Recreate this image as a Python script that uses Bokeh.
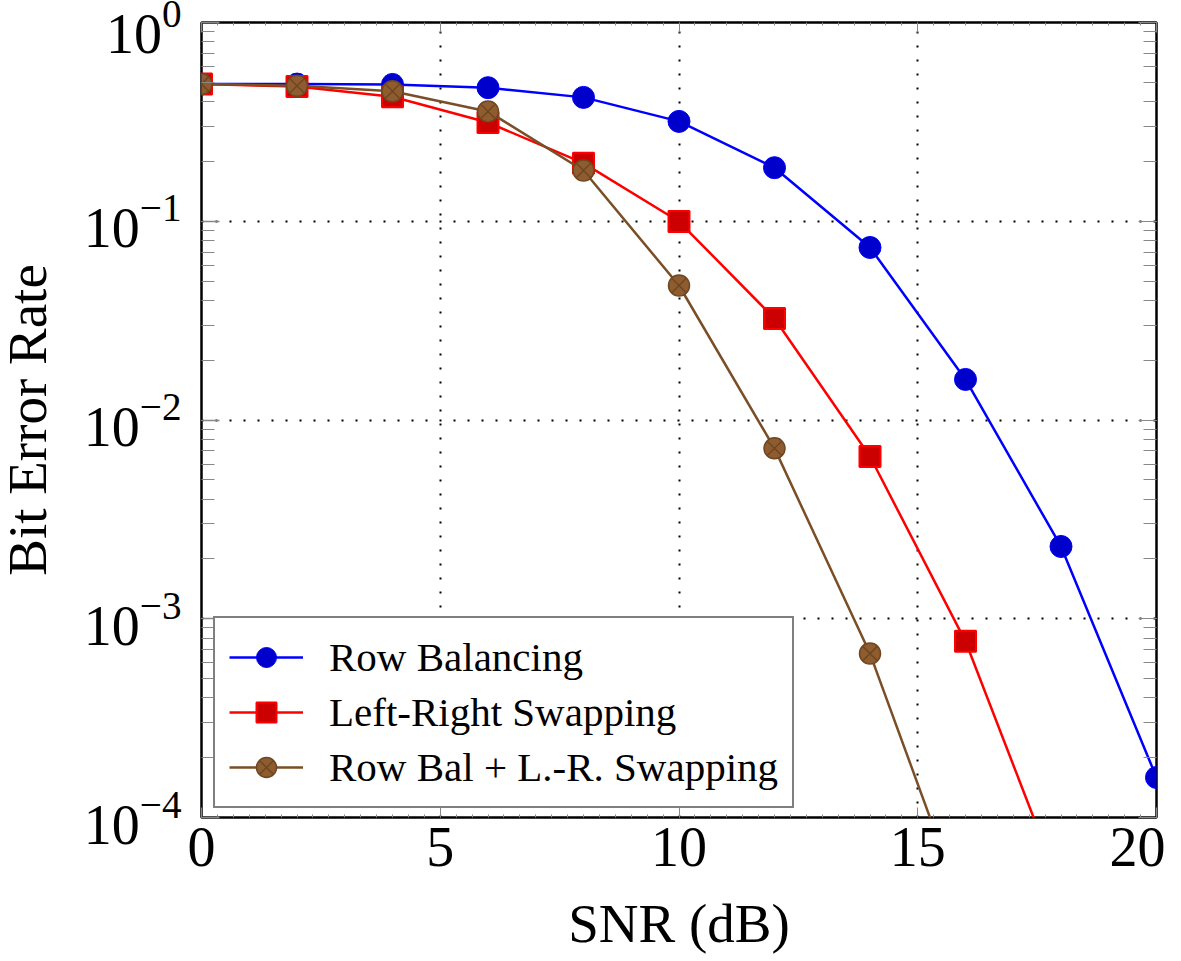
from bokeh.plotting import figure
from bokeh.models import (Range1d, LogAxis, LinearAxis, SingleIntervalTicker,
                          LogTicker, CustomJSTickFormatter)
from bokeh.embed import file_html
from bokeh.resources import INLINE

# ---- data ----
snr = [0, 2, 4, 6, 8, 10, 12, 14, 16, 18, 20]
ber_row_bal = [0.49, 0.49, 0.488, 0.47, 0.42, 0.318, 0.186, 0.0738, 0.016, 0.00231, 1.59e-4]
snr_lr = [0, 2, 4, 6, 8, 10, 12, 14, 16, 18]
ber_lr_swap = [0.49, 0.476, 0.423, 0.314, 0.196, 0.0997, 0.0324, 0.00655, 7.7e-4, 4.4e-5]
snr_both = [0, 2, 4, 6, 8, 10, 12, 14, 16]
ber_both = [0.49, 0.48, 0.451, 0.357, 0.18, 0.0475, 0.0072, 6.68e-4, 3.25e-5]

labels = ["Row Balancing", "Left-Right Swapping", "Row Bal + L.-R. Swapping"]
x_label = "SNR (dB)"
y_label = "Bit Error Rate"

FONT = "Liberation Serif"
SHIFT = 24

p = figure(width=1165 + SHIFT, height=961, x_range=Range1d(0, 20), y_range=Range1d(1e-4, 1),
           y_axis_type="log", output_backend="svg", toolbar_location=None,
           min_border_left=201 + SHIFT, min_border_right=9, min_border_top=22, min_border_bottom=144)
p.styles = {"margin-left": f"-{SHIFT}px"}

p.outline_line_color = "black"
p.outline_line_width = 2.5
p.background_fill_color = "white"

# grids
p.xgrid.ticker = SingleIntervalTicker(interval=5)
for g in (p.xgrid, p.ygrid):
    g.grid_line_color = "black"
    g.grid_line_width = 2
    g.grid_line_dash = "2 12"

xa = p.xaxis[0]
xa.ticker = SingleIntervalTicker(interval=5, num_minor_ticks=15)
ya = p.yaxis[0]
ya.ticker = LogTicker(num_minor_ticks=10)

for ax in (xa, ya):
    ax.axis_line_color = None
    ax.major_tick_line_color = "#888888"
    ax.minor_tick_line_color = "#888888"
    ax.major_tick_out = 0
    ax.minor_tick_out = 0
    ax.major_label_text_font = FONT
    ax.major_label_text_font_size = "56px"
    ax.major_label_text_color = "black"
    ax.axis_label_text_font = FONT
    ax.axis_label_text_font_size = "55px"
    ax.axis_label_text_font_style = "normal"
    ax.axis_label_text_color = "black"

xa.major_tick_in = 10
xa.minor_tick_in = 3
xa.major_label_standoff = 10
xa.axis_label = x_label
xa.axis_label_standoff = 24
ya.major_tick_in = 18
ya.minor_tick_in = 13
ya.major_tick_line_width = 1.5
ya.major_label_standoff = 20
ya.axis_label = y_label
ya.axis_label_standoff = 23

blank = CustomJSTickFormatter(code="return '';")
top = LinearAxis(ticker=SingleIntervalTicker(interval=5, num_minor_ticks=15), formatter=blank,
                 axis_line_color=None, major_tick_in=10, major_tick_out=0,
                 minor_tick_in=3, minor_tick_out=0, major_label_standoff=0,
                 major_tick_line_color="#888888", minor_tick_line_color="#888888")
p.add_layout(top, "above")
right = LogAxis(ticker=LogTicker(num_minor_ticks=10), formatter=blank,
                axis_line_color=None, major_tick_in=18, major_tick_out=0,
                minor_tick_in=13, minor_tick_out=0, major_label_standoff=0,
                major_tick_line_color="#888888", minor_tick_line_color="#888888")
p.add_layout(right, "right")

# series
LW = 2.5
p.line(snr, ber_row_bal, line_color="#0000FF", line_width=LW, legend_label=labels[0])
p.scatter(snr, ber_row_bal, marker="circle", size=22, fill_color="#0000CC",
          line_color="#0000FF", line_width=1, legend_label=labels[0])

p.line(snr_lr, ber_lr_swap, line_color="#FF0000", line_width=LW, legend_label=labels[1])
p.scatter(snr_lr, ber_lr_swap, marker="square", size=21, fill_color="#CC0000",
          line_color="#FF0000", line_width=2, legend_label=labels[1])

p.line(snr_both, ber_both, line_color="#7A4E26", line_width=LW, legend_label=labels[2])
p.scatter(snr_both, ber_both, marker="circle_x", size=21, fill_color="#8E5C2E",
          line_color="#6E4722", line_width=1.5, legend_label=labels[2])

lg = p.legend[0]
lg.location = (12, 9)
lg.border_line_color = "black"
lg.border_line_width = 2
lg.background_fill_color = "white"
lg.background_fill_alpha = 1
lg.label_text_font = FONT
lg.label_text_font_size = "41px"
lg.label_text_color = "black"
lg.glyph_width = 74
lg.glyph_height = 50
lg.label_height = 50
lg.label_standoff = 26
lg.padding = 14
lg.spacing = 5
lg.margin = 0

open("out.html", "w").write(file_html(p, INLINE))
